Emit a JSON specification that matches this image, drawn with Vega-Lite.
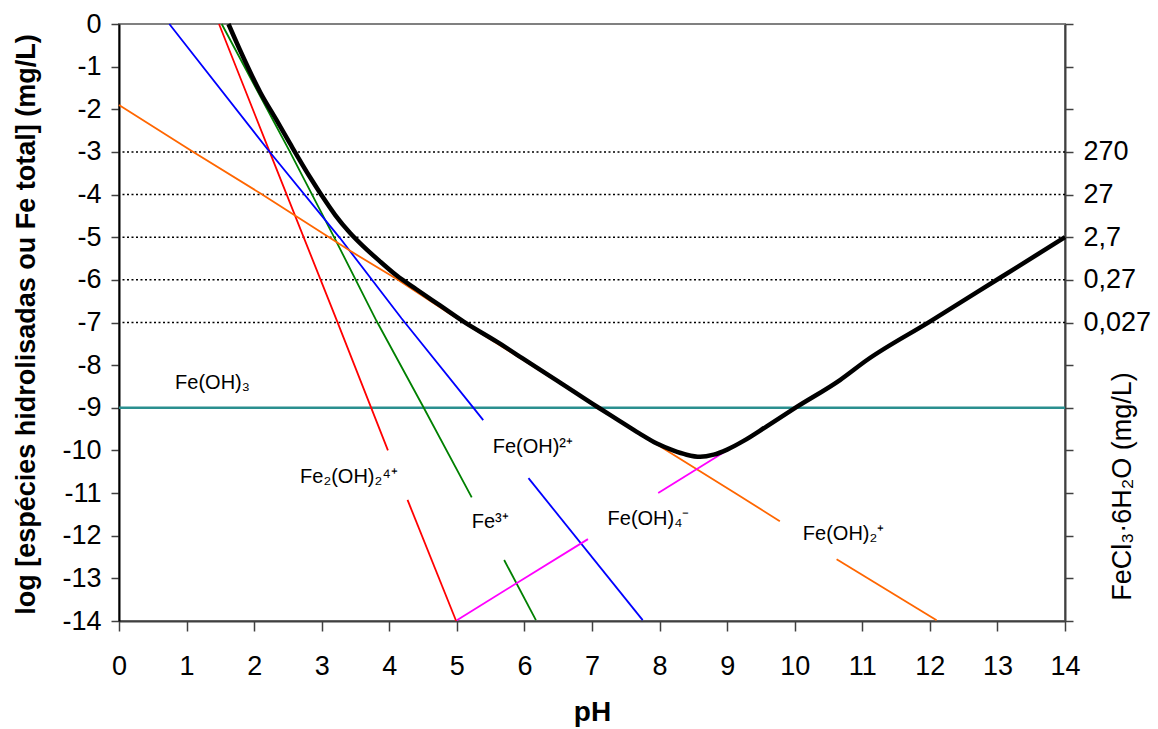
{
  "$schema": "https://vega.github.io/schema/vega-lite/v6.json",
  "width": 946,
  "height": 597,
  "autosize": {"type": "none"},
  "padding": {"left": 119, "top": 24, "right": 93, "bottom": 108},
  "background": "white",
  "config": {
    "view": {"stroke": "#808080", "strokeWidth": 2},
    "font": "Liberation Sans",
    "axis": {"grid": false, "labelFont": "Liberation Sans", "titleFont": "Liberation Sans", "labelColor": "black", "titleColor": "black", "labelOverlap": false, "labelBound": false, "labelFlush": false}
  },
  "datasets": {
    "curves": [
      {"s": "red", "g": "r1", "pH": 1.48, "v": 0},
      {"s": "red", "g": "r1", "pH": 2.23, "v": -3.0},
      {"s": "red", "g": "r1", "pH": 3.22, "v": -6.94},
      {"s": "red", "g": "r1", "pH": 3.98, "v": -10.0},
      {"s": "red", "g": "r2", "pH": 4.27, "v": -11.16},
      {"s": "red", "g": "r2", "pH": 4.99, "v": -14.0},
      {"s": "green", "g": "g1", "pH": 1.52, "v": 0},
      {"s": "green", "g": "g1", "pH": 2.53, "v": -3.0},
      {"s": "green", "g": "g1", "pH": 3.2, "v": -5.05},
      {"s": "green", "g": "g1", "pH": 3.81, "v": -6.96},
      {"s": "green", "g": "g1", "pH": 4.5, "v": -8.97},
      {"s": "green", "g": "g1", "pH": 5.22, "v": -11.1},
      {"s": "green", "g": "g2", "pH": 5.7, "v": -12.57},
      {"s": "green", "g": "g2", "pH": 6.17, "v": -13.98},
      {"s": "blue", "g": "b1", "pH": 0.745, "v": 0},
      {"s": "blue", "g": "b1", "pH": 2.21, "v": -2.96},
      {"s": "blue", "g": "b1", "pH": 3.27, "v": -5.02},
      {"s": "blue", "g": "b1", "pH": 4.18, "v": -6.9},
      {"s": "blue", "g": "b1", "pH": 5.24, "v": -8.99},
      {"s": "blue", "g": "b1", "pH": 5.39, "v": -9.29},
      {"s": "blue", "g": "b2", "pH": 6.06, "v": -10.65},
      {"s": "blue", "g": "b2", "pH": 7.75, "v": -13.98},
      {"s": "orange", "g": "o1", "pH": 0, "v": -1.9},
      {"s": "orange", "g": "o1", "pH": 1.1, "v": -3.0},
      {"s": "orange", "g": "o1", "pH": 2.09, "v": -3.97},
      {"s": "orange", "g": "o1", "pH": 3.42, "v": -5.32},
      {"s": "orange", "g": "o1", "pH": 4.11, "v": -5.98},
      {"s": "orange", "g": "o1", "pH": 4.9, "v": -6.8},
      {"s": "orange", "g": "o1", "pH": 7.0, "v": -8.9},
      {"s": "orange", "g": "o1", "pH": 7.98, "v": -9.88},
      {"s": "orange", "g": "o1", "pH": 9.14, "v": -11.02},
      {"s": "orange", "g": "o1", "pH": 9.78, "v": -11.66},
      {"s": "orange", "g": "o2", "pH": 10.62, "v": -12.55},
      {"s": "orange", "g": "o2", "pH": 12.1, "v": -13.98},
      {"s": "magenta", "g": "m1", "pH": 5.0, "v": -13.98},
      {"s": "magenta", "g": "m1", "pH": 6.94, "v": -12.08},
      {"s": "magenta", "g": "m2", "pH": 7.98, "v": -11.0},
      {"s": "magenta", "g": "m2", "pH": 9.12, "v": -9.88},
      {"s": "black", "g": "k", "pH": 1.62, "v": 0},
      {"s": "black", "g": "k", "pH": 1.79, "v": -0.61},
      {"s": "black", "g": "k", "pH": 2.09, "v": -1.6},
      {"s": "black", "g": "k", "pH": 2.33, "v": -2.25},
      {"s": "black", "g": "k", "pH": 2.53, "v": -2.8},
      {"s": "black", "g": "k", "pH": 2.83, "v": -3.6},
      {"s": "black", "g": "k", "pH": 3.0, "v": -4.02},
      {"s": "black", "g": "k", "pH": 3.2, "v": -4.48},
      {"s": "black", "g": "k", "pH": 3.42, "v": -4.9},
      {"s": "black", "g": "k", "pH": 3.62, "v": -5.22},
      {"s": "black", "g": "k", "pH": 3.85, "v": -5.55},
      {"s": "black", "g": "k", "pH": 4.11, "v": -5.9},
      {"s": "black", "g": "k", "pH": 4.4, "v": -6.22},
      {"s": "black", "g": "k", "pH": 4.75, "v": -6.6},
      {"s": "black", "g": "k", "pH": 5.1, "v": -6.98},
      {"s": "black", "g": "k", "pH": 5.59, "v": -7.45},
      {"s": "black", "g": "k", "pH": 6.03, "v": -7.9},
      {"s": "black", "g": "k", "pH": 6.5, "v": -8.38},
      {"s": "black", "g": "k", "pH": 7.07, "v": -8.97},
      {"s": "black", "g": "k", "pH": 7.4, "v": -9.3},
      {"s": "black", "g": "k", "pH": 7.7, "v": -9.6},
      {"s": "black", "g": "k", "pH": 7.96, "v": -9.84},
      {"s": "black", "g": "k", "pH": 8.2, "v": -10.0},
      {"s": "black", "g": "k", "pH": 8.4, "v": -10.1},
      {"s": "black", "g": "k", "pH": 8.6, "v": -10.15},
      {"s": "black", "g": "k", "pH": 8.8, "v": -10.1},
      {"s": "black", "g": "k", "pH": 9.0, "v": -9.98},
      {"s": "black", "g": "k", "pH": 9.25, "v": -9.77},
      {"s": "black", "g": "k", "pH": 9.58, "v": -9.44},
      {"s": "black", "g": "k", "pH": 10.03, "v": -8.98},
      {"s": "black", "g": "k", "pH": 10.67, "v": -8.35},
      {"s": "black", "g": "k", "pH": 11.07, "v": -7.88},
      {"s": "black", "g": "k", "pH": 12.0, "v": -6.98},
      {"s": "black", "g": "k", "pH": 13.04, "v": -5.95},
      {"s": "black", "g": "k", "pH": 14.0, "v": -5.0}
    ],
    "levels": [{"v": -3}, {"v": -4}, {"v": -5}, {"v": -6}, {"v": -7}],
    "solid": [{"v": -9}],
    "labels": [
      {"t": "Fe(OH)₃", "pH": 0.83, "v": -8.56},
      {"t": "Fe₂(OH)₂⁴⁺", "pH": 2.68, "v": -10.76},
      {"t": "Fe(OH)²⁺", "pH": 5.53, "v": -10.06},
      {"t": "Fe³⁺", "pH": 5.22, "v": -11.83},
      {"t": "Fe(OH)₄⁻", "pH": 7.23, "v": -11.75},
      {"t": "Fe(OH)₂⁺", "pH": 10.12, "v": -12.1}
    ]
  },
  "layer": [
    {
      "data": {"name": "levels"},
      "mark": {"type": "rule", "color": "black", "strokeWidth": 1.5, "strokeDash": [2, 2.5]},
      "encoding": {
        "y": {
          "field": "v", "type": "quantitative",
          "scale": {"domain": [-14, 0], "nice": false, "zero": false},
          "axis": {
            "orient": "left",
            "values": [0, -1, -2, -3, -4, -5, -6, -7, -8, -9, -10, -11, -12, -13, -14],
            "labelExpr": "'' + datum.value",
            "labelFontSize": 27,
            "labelPadding": 10,
            "tickSize": 8,
            "tickColor": "#404040",
            "tickWidth": 1.5,
            "domainColor": "black",
            "domainWidth": 2,
            "title": "log [espécies hidrolisadas ou Fe total] (mg/L)",
            "titleFontSize": 27,
            "titleFontWeight": "bold",
            "titleAngle": 270,
            "titleX": -93,
            "titleY": 300,
            "titleAlign": "center",
            "titleBaseline": "middle"
          }
        }
      }
    },
    {
      "data": {"name": "solid"},
      "mark": {"type": "rule", "color": "#2a8f8f", "strokeWidth": 2.5},
      "encoding": {
        "y": {
          "field": "v", "type": "quantitative",
          "scale": {"domain": [-14, 0], "nice": false, "zero": false},
          "axis": {
            "orient": "right",
            "values": [0, -1, -2, -3, -4, -5, -6, -7, -8, -9, -10, -11, -12, -13, -14],
            "labelExpr": "datum.value == -3 ? '270' : datum.value == -4 ? '27' : datum.value == -5 ? '2,7' : datum.value == -6 ? '0,27' : datum.value == -7 ? '0,027' : ''",
            "labelFontSize": 27,
            "labelPadding": 10,
            "labelAlign": "left",
            "tickSize": 8,
            "tickColor": "#404040",
            "tickWidth": 1.5,
            "domainColor": "#404040",
            "domainWidth": 2,
            "title": "FeCl₃·6H₂O (mg/L)",
            "titleFontSize": 27,
            "titleFontWeight": "normal",
            "titleAngle": 270,
            "titleX": 57,
            "titleY": 462,
            "titleAlign": "center",
            "titleBaseline": "middle"
          }
        }
      }
    },
    {
      "data": {"name": "curves"},
      "transform": [{"filter": "datum.s != 'black'"}],
      "mark": {"type": "line", "strokeWidth": 1.8},
      "encoding": {
        "x": {
          "field": "pH", "type": "quantitative",
          "scale": {"domain": [0, 14], "nice": false, "zero": false},
          "axis": {
            "values": [0, 1, 2, 3, 4, 5, 6, 7, 8, 9, 10, 11, 12, 13, 14],
            "labelFontSize": 27,
            "labelPadding": 22,
            "tickSize": 10,
            "tickColor": "#404040",
            "tickWidth": 1.5,
            "domainColor": "#404040",
            "domainWidth": 2,
            "title": "pH",
            "titleFontSize": 28,
            "titleFontWeight": "bold",
            "titleY": 99,
            "titleBaseline": "alphabetic"
          }
        },
        "y": {"field": "v", "type": "quantitative", "scale": {"domain": [-14, 0], "nice": false, "zero": false}, "axis": null},
        "color": {
          "field": "s", "type": "nominal",
          "scale": {"domain": ["red", "green", "blue", "orange", "magenta"], "range": ["#ff0000", "#008000", "#0000ff", "#ff6600", "#ff00ff"]},
          "legend": null
        },
        "detail": {"field": "g", "type": "nominal"}
      }
    },
    {
      "data": {"name": "curves"},
      "transform": [{"filter": "datum.s == 'black'"}],
      "mark": {"type": "line", "strokeWidth": 4.5, "color": "black", "interpolate": "monotone"},
      "encoding": {
        "x": {
          "field": "pH", "type": "quantitative",
          "scale": {"domain": [0, 14], "nice": false, "zero": false},
          "axis": {
            "values": [0, 1, 2, 3, 4, 5, 6, 7, 8, 9, 10, 11, 12, 13, 14],
            "labelFontSize": 27,
            "labelPadding": 22,
            "tickSize": 10,
            "tickColor": "#404040",
            "tickWidth": 1.5,
            "domainColor": "#404040",
            "domainWidth": 2,
            "title": "pH",
            "titleFontSize": 28,
            "titleFontWeight": "bold",
            "titleY": 99,
            "titleBaseline": "alphabetic"
          }
        },
        "y": {"field": "v", "type": "quantitative", "scale": {"domain": [-14, 0], "nice": false, "zero": false}, "axis": null}
      }
    },
    {
      "data": {"name": "labels"},
      "mark": {"type": "text", "align": "left", "baseline": "alphabetic", "fontSize": 20, "font": "Liberation Sans", "color": "black"},
      "encoding": {
        "x": {
          "field": "pH", "type": "quantitative",
          "scale": {"domain": [0, 14], "nice": false, "zero": false},
          "axis": {
            "values": [0, 1, 2, 3, 4, 5, 6, 7, 8, 9, 10, 11, 12, 13, 14],
            "labelFontSize": 27,
            "labelPadding": 22,
            "tickSize": 10,
            "tickColor": "#404040",
            "tickWidth": 1.5,
            "domainColor": "#404040",
            "domainWidth": 2,
            "title": "pH",
            "titleFontSize": 28,
            "titleFontWeight": "bold",
            "titleY": 99,
            "titleBaseline": "alphabetic"
          }
        },
        "y": {"field": "v", "type": "quantitative", "scale": {"domain": [-14, 0], "nice": false, "zero": false}, "axis": null},
        "text": {"field": "t", "type": "nominal"}
      }
    }
  ],
  "resolve": {"axis": {"y": "independent"}}
}
